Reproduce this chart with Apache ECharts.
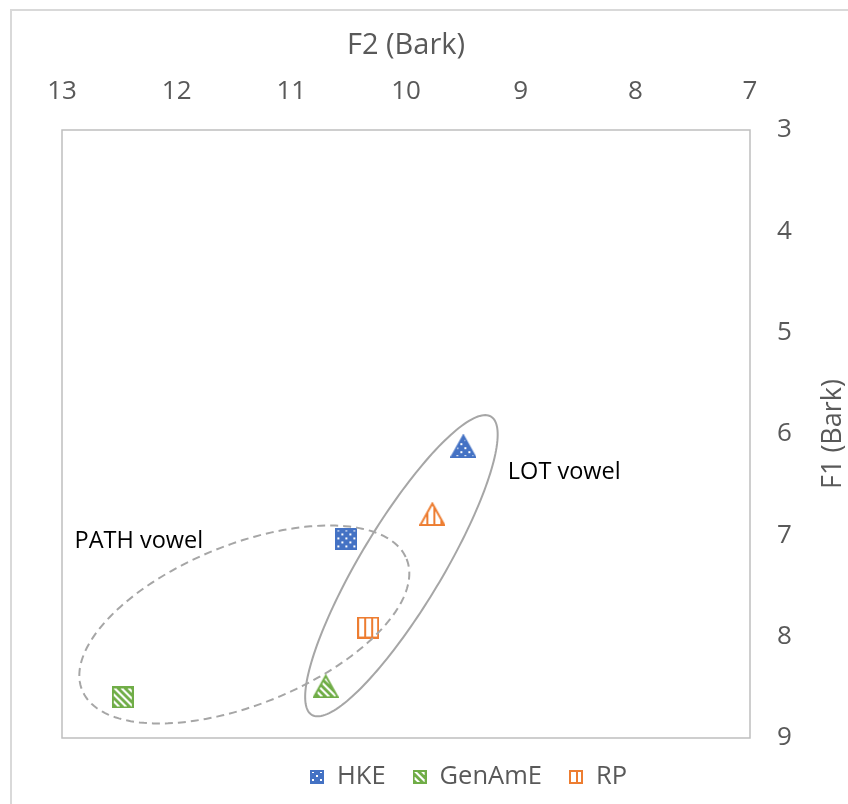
<!DOCTYPE html>
<html><head><meta charset="utf-8">
<script src="https://cdn.jsdelivr.net/npm/echarts@6/dist/echarts.min.js"></script>
<style>html,body{margin:0;padding:0;background:#fff;overflow:hidden}#c{width:848px;height:804px}</style>
</head><body><div id="c"></div>
<script>
// ---- data ----
const varieties = ['HKE', 'GenAmE', 'RP'];
const pathF2 = [10.52, 12.47, 10.33];
const pathF1 = [7.04, 8.60, 7.91];
const lotF2 = [9.50, 10.70, 9.77];
const lotF1 = [6.12, 8.49, 6.79];
const xTicks = [7, 8, 9, 10, 11, 12, 13];
const yTicks = [3, 4, 5, 6, 7, 8, 9];
// annotations: vowel ellipses (centre in Bark)
const ellipseNames = ['LOT vowel', 'PATH vowel'];
const ellipseF2 = [10.04, 11.41];
const ellipseF1 = [7.30, 7.88];
const ellipseLabelF2 = [8.62, 12.33];
const ellipseLabelF1 = [6.375, 7.06];

// ---- styles ----
const ellipseStyle = [
  {a: 174, b: 41, angle: 59, dash: null},
  {a: 175, b: 80, angle: 22, dash: [8, 5]}
];
const colors = ['#4472C4', '#70AD47', '#ED7D31'];
const kinds = ['dots', 'diag', 'vert'];

function tile(kind, col) {
  const c = document.createElement('canvas');
  const g = c.getContext('2d');
  if (kind === 'dots') {
    c.width = 8; c.height = 8;
    g.fillStyle = col; g.fillRect(0, 0, 8, 8);
    g.fillStyle = '#ffffff';
    g.fillRect(2, 1, 2, 2); g.fillRect(6, 5, 2, 2);
  } else if (kind === 'diag') {
    const n = 7; c.width = n; c.height = n;
    g.fillStyle = col; g.fillRect(0, 0, n, n);
    const img = g.getImageData(0, 0, n, n);
    for (let y = 0; y < n; y++) for (let x = 0; x < n; x++) {
      const d = ((x - y) % n + n) % n;
      if (d < 3) { const i = (y * n + x) * 4; img.data[i] = 255; img.data[i+1] = 255; img.data[i+2] = 255; }
    }
    g.putImageData(img, 0, 0);
  } else {
    c.width = 7; c.height = 7;
    g.fillStyle = '#ffffff'; g.fillRect(0, 0, 7, 7);
    g.fillStyle = col; g.fillRect(0, 0, 2, 7);
  }
  return c;
}

function markerImage(shape, kind, col, w, h) {
  const c = document.createElement('canvas');
  c.width = w; c.height = h;
  const g = c.getContext('2d');
  const pat = g.createPattern(tile(kind, col), 'repeat');
  g.beginPath();
  if (shape === 'rect') {
    g.rect(1, 1, w - 2, h - 2);
  } else {
    g.moveTo(w / 2, 1.5); g.lineTo(w - 1, h - 1); g.lineTo(1, h - 1); g.closePath();
  }
  g.fillStyle = pat; g.fill();
  g.lineWidth = 2; g.strokeStyle = col; g.lineJoin = 'miter'; g.stroke();
  return 'image://' + c.toDataURL();
}

const scatterSeries = varieties.map((v, i) => ({
  name: v,
  type: 'scatter',
  itemStyle: {color: colors[i], opacity: 1},
  data: [
    {value: [pathF2[i], pathF1[i]], symbol: markerImage('rect', kinds[i], colors[i], 22, 22), symbolSize: [22, 22]},
    {value: [lotF2[i], lotF1[i]], symbol: markerImage('tri', kinds[i], colors[i], 26, 24), symbolSize: [26, 24]}
  ],
  z: 3
}));

const ellipseSeries = {
  type: 'custom',
  coordinateSystem: 'cartesian2d',
  silent: true,
  z: 5,
  clip: false,
  data: ellipseNames.map((n, i) => [ellipseF2[i], ellipseF1[i], ellipseLabelF2[i], ellipseLabelF1[i], i]),
  renderItem: function (params, api) {
    const i = api.value(4);
    const s = ellipseStyle[i];
    const c = api.coord([api.value(0), api.value(1)]);
    const l = api.coord([api.value(2), api.value(3)]);
    const th = s.angle * Math.PI / 180;
    const pts = [];
    for (let k = 0; k < 180; k++) {
      const t = k / 180 * Math.PI * 2;
      pts.push([
        c[0] + s.a * Math.cos(t) * Math.cos(th) + s.b * Math.sin(t) * Math.sin(th),
        c[1] - s.a * Math.cos(t) * Math.sin(th) + s.b * Math.sin(t) * Math.cos(th)
      ]);
    }
    return {
      type: 'group',
      children: [
        {type: 'polygon', shape: {points: pts},
         style: {fill: 'none', stroke: '#A6A6A6', lineWidth: 2, lineDash: s.dash}},
        {type: 'text', x: l[0], y: l[1],
         style: {text: ellipseNames[i], fill: '#000', font: '23.5px "Open Sans"', align: 'center', verticalAlign: 'middle'}}
      ]
    };
  }
};

const chart = echarts.init(document.getElementById('c'), null, {renderer: 'canvas'});
chart.setOption({
  animation: false,
  backgroundColor: '#fff',
  textStyle: {fontFamily: 'Open Sans'},
  graphic: [{type: 'rect', shape: {x: 11, y: 10, width: 900, height: 900},
    style: {fill: 'none', stroke: '#D9D9D9', lineWidth: 2}, silent: true, z: -10}],
  grid: {left: 62, right: 98, top: 130, bottom: 66, containLabel: false, outerBoundsMode: 'none',
    show: true, borderColor: '#BFBFBF', borderWidth: 1.5, backgroundColor: 'transparent'},
  xAxis: {
    type: 'value', position: 'top', inverse: true, min: 7, max: 13, interval: 1,
    name: 'F2 (Bark)', nameLocation: 'middle', nameGap: 70,
    nameTextStyle: {color: '#595959', fontSize: 29, fontFamily: 'Open Sans'},
    axisLine: {show: false}, axisTick: {show: false}, splitLine: {show: false},
    axisLabel: {color: '#595959', fontSize: 26, margin: 25, fontFamily: 'Open Sans',
      formatter: v => xTicks.includes(v) ? String(v) : ''}
  },
  yAxis: {
    type: 'value', position: 'right', inverse: true, min: 3, max: 9, interval: 1,
    name: 'F1 (Bark)', nameLocation: 'middle', nameGap: 70, nameRotate: 90,
    nameTextStyle: {color: '#595959', fontSize: 27, fontFamily: 'Open Sans'},
    axisLine: {show: false}, axisTick: {show: false}, splitLine: {show: false},
    axisLabel: {color: '#595959', fontSize: 26, margin: 27, fontFamily: 'Open Sans',
      formatter: v => yTicks.includes(v) ? String(v) : ''}
  },
  legend: {
    bottom: 9, left: 305, itemWidth: 14, itemHeight: 14, itemGap: 27,
    textStyle: {color: '#595959', fontSize: 25.5, fontFamily: 'Open Sans', padding: [0, 0, 0, 8]},
    data: varieties.map((v, i) => ({name: v, icon: markerImage('rect', kinds[i], colors[i], 14, 14)}))
  },
  series: scatterSeries.concat([ellipseSeries])
});
</script></body></html>
